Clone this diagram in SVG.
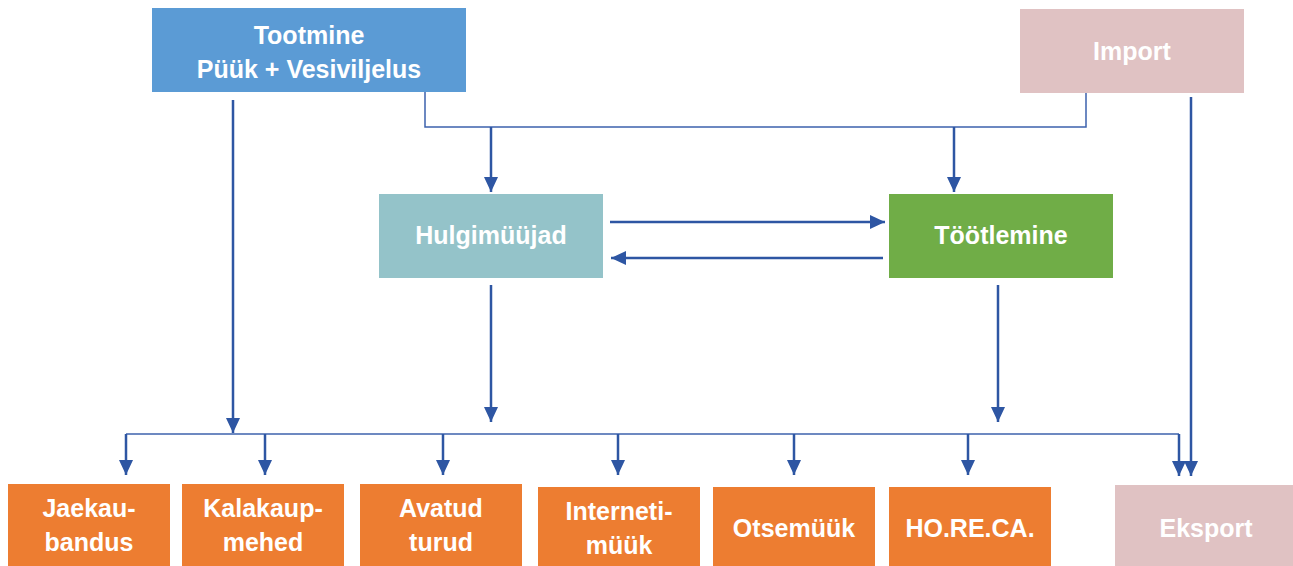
<svg xmlns="http://www.w3.org/2000/svg" width="1293" height="566" viewBox="0 0 1293 566">
<style>
.t{font-family:"Liberation Sans","DejaVu Sans",sans-serif;font-weight:bold;font-size:25px;fill:#ffffff;text-anchor:middle}
.a{fill:none;stroke:#2E56A3;stroke-width:2.5}
.th{fill:none;stroke:#3D62AD;stroke-width:1.5}
.or{fill:#ED7D31}
</style>
<defs>
<marker id="ah" markerUnits="userSpaceOnUse" markerWidth="15" markerHeight="14" refX="15" refY="7" orient="auto">
<path d="M0,0 L15,7 L0,14 z" fill="#2E56A3"/>
</marker>
</defs>
<rect width="1293" height="566" fill="#ffffff"/>
<g id="tootmine"><rect x="152" y="8" width="314" height="84" fill="#5B9BD5"/><text class="t" x="309" y="44">Tootmine</text><text class="t" x="309" y="78">Püük + Vesiviljelus</text></g>
<g id="import"><rect x="1020" y="9" width="224" height="84" fill="#E0C2C3"/><text class="t" x="1132" y="60">Import</text></g>
<g id="hulgimuujad"><rect x="379" y="194" width="224" height="84" fill="#94C3C9"/><text class="t" x="491" y="244">Hulgimüüjad</text></g>
<g id="tootlemine"><rect x="889" y="194" width="224" height="84" fill="#70AD47"/><text class="t" x="1001" y="244">Töötlemine</text></g>
<g id="jaekaubandus"><rect class="or" x="8" y="484" width="162" height="82"/><text class="t" x="89" y="517">Jaekau-</text><text class="t" x="89" y="551">bandus</text></g>
<g id="kalakaupmehed"><rect class="or" x="182" y="484" width="162" height="82"/><text class="t" x="263" y="517">Kalakaup-</text><text class="t" x="263" y="551">mehed</text></g>
<g id="avatudturud"><rect class="or" x="360" y="484" width="162" height="82"/><text class="t" x="441" y="517">Avatud</text><text class="t" x="441" y="551">turud</text></g>
<g id="internetimuuk"><rect class="or" x="538" y="487" width="162" height="79"/><text class="t" x="619" y="520">Interneti-</text><text class="t" x="619" y="554">müük</text></g>
<g id="otsemuuk"><rect class="or" x="713" y="487" width="162" height="79"/><text class="t" x="794" y="537">Otsemüük</text></g>
<g id="horeca"><rect class="or" x="889" y="487" width="162" height="79"/><text class="t" x="970" y="537">HO.RE.CA.</text></g>
<g id="eksport"><rect x="1115" y="485" width="178" height="81" fill="#E0C2C3"/><text class="t" x="1206" y="537">Eksport</text></g>
<g id="connectors">
<polyline class="th" points="425,92 425,127 1086,127 1086,93"/>
<line class="a" x1="491" y1="127" x2="491" y2="192" marker-end="url(#ah)"/>
<line class="a" x1="954" y1="127" x2="954" y2="192" marker-end="url(#ah)"/>
<line class="a" x1="610" y1="222" x2="885" y2="222" marker-end="url(#ah)"/>
<line class="a" x1="883" y1="258" x2="611" y2="258" marker-end="url(#ah)"/>
<line class="a" x1="233" y1="100" x2="233" y2="433" marker-end="url(#ah)"/>
<line class="a" x1="491" y1="285" x2="491" y2="422" marker-end="url(#ah)"/>
<line class="a" x1="998" y1="285" x2="998" y2="422" marker-end="url(#ah)"/>
<line class="a" x1="1191" y1="97" x2="1191" y2="476" marker-end="url(#ah)"/>
<polyline class="th" points="126,434 1179,434"/>
<line class="a" x1="126" y1="434" x2="126" y2="475" marker-end="url(#ah)"/>
<line class="a" x1="265" y1="434" x2="265" y2="475" marker-end="url(#ah)"/>
<line class="a" x1="443" y1="434" x2="443" y2="475" marker-end="url(#ah)"/>
<line class="a" x1="618" y1="434" x2="618" y2="475" marker-end="url(#ah)"/>
<line class="a" x1="794" y1="434" x2="794" y2="475" marker-end="url(#ah)"/>
<line class="a" x1="968" y1="434" x2="968" y2="475" marker-end="url(#ah)"/>
<line class="a" x1="1179" y1="434" x2="1179" y2="476" marker-end="url(#ah)"/>
</g>
</svg>
